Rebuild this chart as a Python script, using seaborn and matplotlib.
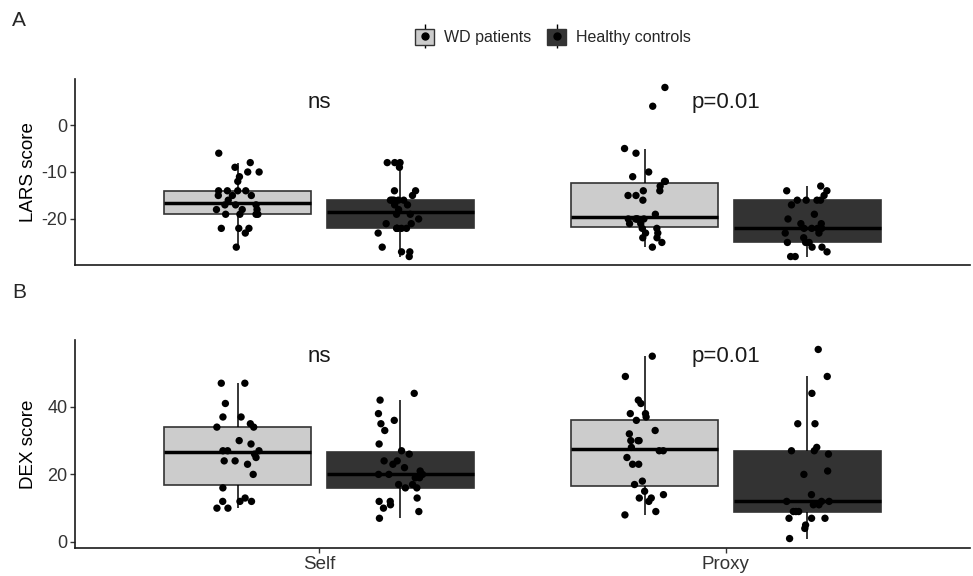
import numpy as np
import pandas as pd
import matplotlib.pyplot as plt
import seaborn as sns
from matplotlib.patches import Patch
from matplotlib.lines import Line2D
from matplotlib.legend_handler import HandlerTuple

# Categorías
raters = ['Self', 'Proxy']
groups = ['WD patients', 'Healthy controls']
box_colors = ['#CCCCCC', '#333333']

# Panel A - LARS score
lars_wd_self = [-6, -8, -9, -10, -10, -11, -12, -14, -14, -14, -14, -15, -15, -15, -16,
                -17, -17, -17, -18, -18, -18, -19, -19, -19, -19, -22, -22, -22, -23, -26]
lars_hc_self = [-8, -8, -8, -9, -14, -14, -15, -16, -16, -16, -16, -16, -17, -17, -18,
                -19, -19, -20, -21, -21, -22, -22, -22, -22, -22, -23, -26, -27, -27, -28]
lars_wd_proxy = [8, 4, -5, -6, -10, -11, -12, -12, -13, -14, -14, -15, -15, -16, -19,
                 -20, -20, -20, -20, -20, -21, -21, -22, -22, -23, -23, -24, -24, -25, -26]
lars_hc_proxy = [-13, -14, -14, -15, -16, -16, -16, -16, -17, -19, -20, -21, -21, -22,
                 -22, -22, -22, -23, -23, -24, -25, -25, -25, -26, -26, -27, -28, -28]

# Panel B - DEX score
dex_wd_self = [47, 47, 41, 37, 37, 35, 34, 34, 30, 29, 27, 27, 27, 26, 25, 24, 24, 23,
               20, 16, 13, 12, 12, 12, 10, 10]
dex_hc_self = [44, 42, 38, 36, 35, 33, 29, 27, 26, 24, 24, 23, 22, 21, 20, 20, 20, 19,
               19, 17, 17, 16, 16, 13, 12, 12, 11, 10, 9, 7]
dex_wd_proxy = [55, 49, 42, 41, 38, 38, 37, 36, 33, 32, 30, 30, 30, 28, 27, 27, 25, 23,
                23, 18, 17, 15, 14, 13, 13, 12, 9, 8]
dex_hc_proxy = [57, 49, 44, 35, 35, 28, 27, 27, 26, 21, 20, 14, 12, 12, 12, 11, 11, 9,
                9, 9, 7, 7, 7, 5, 4, 1]

# Etiquetas de significancia
p_labels = ['ns', 'p=0.01']


def long_df(wd_self, hc_self, wd_proxy, hc_proxy):
    rows = []
    for rater, group, vals in [('Self', groups[0], wd_self), ('Self', groups[1], hc_self),
                               ('Proxy', groups[0], wd_proxy), ('Proxy', groups[1], hc_proxy)]:
        for v in vals:
            rows.append((rater, group, v))
    return pd.DataFrame(rows, columns=['rater', 'group', 'score'])


df_lars = long_df(lars_wd_self, lars_hc_self, lars_wd_proxy, lars_hc_proxy)
df_dex = long_df(dex_wd_self, dex_hc_self, dex_wd_proxy, dex_hc_proxy)

sns.set_style('white')
plt.rcParams['font.family'] = ['Liberation Sans', 'DejaVu Sans']
plt.rcParams['axes.unicode_minus'] = False

fig = plt.figure(figsize=(9.73, 5.76), dpi=100)
ax_a = fig.add_axes([75 / 973, 1 - 265 / 576, 895 / 973, 186 / 576])
ax_b = fig.add_axes([75 / 973, 1 - 548 / 576, 895 / 973, 208 / 576])

np.random.seed(7)
for ax, df, ylim, yticks, ylabel, ytext in [
        (ax_a, df_lars, (-29.8, 9.8), [-20, -10, 0], 'LARS score', 4.8),
        (ax_b, df_dex, (-1.8, 59.8), [0, 20, 40], 'DEX score', 54.8)]:
    sns.boxplot(data=df, x='rater', y='score', hue='group', order=raters, hue_order=groups,
                palette=box_colors, saturation=1, width=0.8, gap=0.1, showfliers=False,
                showcaps=False, linewidth=1.2, linecolor='#333333',
                medianprops=dict(color='black', linewidth=2.5),
                whiskerprops=dict(color='black', linewidth=1.1),
                legend=False, ax=ax)
    sns.stripplot(data=df, x='rater', y='score', hue='group', order=raters, hue_order=groups,
                  palette=['black', 'black'], dodge=True, jitter=0.11, size=5.3,
                  legend=False, ax=ax)
    for i, lab in enumerate(p_labels):
        ax.text(i, ytext, lab, ha='center', va='center', fontsize=16, color='#1a1a1a')
    ax.set_xlim(-0.6, 1.6)
    ax.set_ylim(*ylim)
    ax.set_yticks(yticks)
    ax.set_ylabel(ylabel, fontsize=13.5, color='black')
    ax.set_xlabel('')
    for side in ['top', 'right']:
        ax.spines[side].set_visible(False)
    for side in ['left', 'bottom']:
        ax.spines[side].set_color('#1a1a1a')
        ax.spines[side].set_linewidth(1.2)
    ax.tick_params(axis='both', length=3.5, width=1, color='#333333', pad=2,
                   labelcolor='#333333', labelsize=13, left=True, bottom=True)

ax_a.set_xticks([])
ax_a.yaxis.set_label_coords(-0.043, 0.5)
ax_b.yaxis.set_label_coords(-0.043, 0.5)
ax_b.tick_params(axis='x', labelsize=13.5)

# Etiquetas de panel
fig.text(12 / 973, 1 - 20 / 576, 'A', fontsize=15, va='center')
fig.text(12 / 973, 1 - 293 / 576, 'B', fontsize=15, va='center')

# Leyenda
handles = []
for c in box_colors:
    handles.append((Line2D([], [], color='black', linewidth=0, marker='|', markersize=17,
                           markeredgewidth=1),
                    Patch(facecolor=c, edgecolor='#333333', linewidth=1),
                    Line2D([], [], color='black', linewidth=0, marker='o', markersize=5)))
fig.legend(handles, groups, loc='center', bbox_to_anchor=(553 / 973, 1 - 37 / 576), ncol=2,
           frameon=False, fontsize=11.5, handler_map={tuple: HandlerTuple(ndivide=1)},
           handlelength=1.2, handleheight=1.2, columnspacing=1.0, handletextpad=0.6)

plt.savefig('out.png', dpi=100)
